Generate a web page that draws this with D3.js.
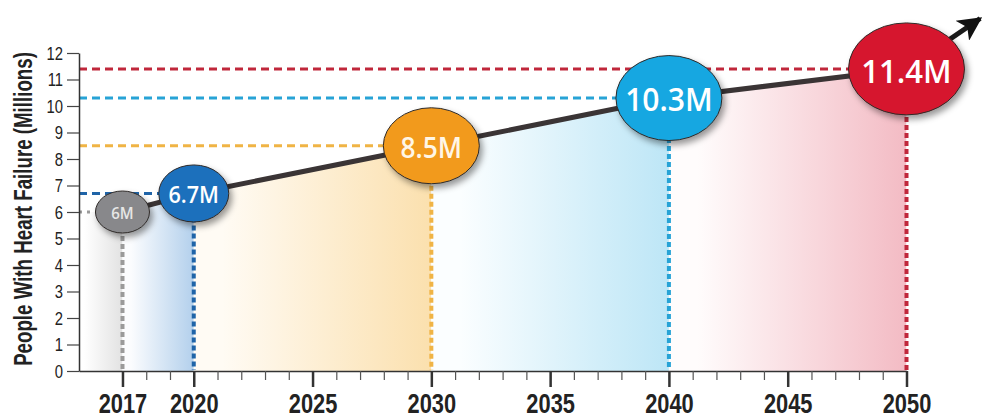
<!DOCTYPE html>
<html>
<head>
<meta charset="utf-8">
<script src="https://cdn.jsdelivr.net/npm/d3@7"></script>
<style>
  html, body { margin: 0; padding: 0; background: #fff; }
  svg { display: block; }
</style>
</head>
<body>
<svg id="chart" width="982" height="418"></svg>
<script>
// ---- data ----
const years = [2017, 2020, 2030, 2040, 2050];
const values = [6, 6.7, 8.5, 10.3, 11.4];
const labels = ["6M", "6.7M", "8.5M", "10.3M", "11.4M"];
const arrowTip = { year: 2053.1, value: 13.3 };
const yTicks = [0, 1, 2, 3, 4, 5, 6, 7, 8, 9, 10, 11, 12];
const xMinorTicks = d3.range(2017, 2051);
const xTickLabels = [2017, 2020, 2025, 2030, 2035, 2040, 2045, 2050];
const yTitle = "People With Heart Failure (Millions)";

// ---- styles ----
const bubbleFill = ["#88888b", "#1f6fbc", "#f29a1e", "#17a7e1", "#d6192f"];
const lineColor = ["#9a9a9a", "#1f64a8", "#f0b445", "#27a3d6", "#c0273b"];
const bandStart = ["#ffffff", "#fbfcfe", "#fffbf4", "#fbfeff", "#fffcfc"];
const bandColor = ["#e2e2e2", "#b3d0ec", "#fbe0ae", "#bde6f6", "#f3bbc4"];
const bubbleRx = [27, 35, 48, 53, 58];
const bubbleRy = [21, 28.5, 38, 42.5, 46];
const labelSize = [16, 23, 28, 32, 33];
const labelColor = ["#e6e6e6", "#ffffff", "#fff6e6", "#ffffff", "#ffffff"];
const narrowFont = "'Liberation Sans', Arial, sans-serif";
const squeeze = 0.78;

const svg = d3.select("#chart");
const x = d3.scaleLinear().domain([2015.17, 2050]).range([79, 906.5]);
const y = d3.scaleLinear().domain([0, 12]).range([371, 53]);

const defs = svg.append("defs");
const shadow = defs.append("filter").attr("id", "shadow")
  .attr("x", "-30%").attr("y", "-30%").attr("width", "170%").attr("height", "170%");
shadow.append("feDropShadow").attr("dx", 3).attr("dy", 4)
  .attr("stdDeviation", 3).attr("flood-color", "#000").attr("flood-opacity", 0.4);

defs.append("marker").attr("id", "arrow")
  .attr("markerUnits", "userSpaceOnUse")
  .attr("viewBox", "0 0 10 10").attr("refX", 9).attr("refY", 5)
  .attr("markerWidth", 26).attr("markerHeight", 24).attr("orient", "auto")
  .append("path").attr("d", "M0,0 L10,5 L0,10 L2.5,5 Z").attr("fill", "#111");

// ---- area under line with colored bands ----
const areaPts = [{ year: x.domain()[0], value: values[0] }]
  .concat(years.map((yr, i) => ({ year: yr, value: values[i] })));
const area = d3.area().x(d => x(d.year)).y0(y(0)).y1(d => y(d.value));
defs.append("clipPath").attr("id", "areaClip")
  .append("path").attr("d", area(areaPts));

const bandEdges = [x.domain()[0]].concat(years);
const bands = svg.append("g").attr("clip-path", "url(#areaClip)");
for (let i = 0; i < bandEdges.length - 1; i++) {
  const g = defs.append("linearGradient").attr("id", "band" + i)
    .attr("x1", "0").attr("x2", "1").attr("y1", "0").attr("y2", "0");
  g.append("stop").attr("offset", "0").attr("stop-color", bandStart[i]);
  g.append("stop").attr("offset", "0.12").attr("stop-color", bandStart[i]);
  g.append("stop").attr("offset", "1").attr("stop-color", bandColor[i]);
  bands.append("rect")
    .attr("x", x(bandEdges[i])).attr("y", y(12))
    .attr("width", x(bandEdges[i + 1]) - x(bandEdges[i]))
    .attr("height", y(0) - y(12))
    .attr("fill", "url(#band" + i + ")");
}

// ---- reference lines ----
const refs = svg.append("g");
years.forEach((yr, i) => {
  refs.append("line")
    .attr("x1", x.range()[0]).attr("x2", x(yr))
    .attr("y1", y(values[i])).attr("y2", y(values[i]))
    .attr("stroke", lineColor[i]).attr("stroke-width", 3)
    .attr("stroke-dasharray", i === 0 ? "3,5" : "8,5");
  refs.append("line")
    .attr("x1", x(yr)).attr("x2", x(yr))
    .attr("y1", y(values[i])).attr("y2", y(0) - 1)
    .attr("stroke", lineColor[i]).attr("stroke-width", 4)
    .attr("stroke-dasharray", "5,3");
});

// ---- axes ----
const yAxis = svg.append("g").attr("transform", `translate(${x.range()[0]},0)`)
  .call(d3.axisLeft(y).tickValues(yTicks).tickSize(12).tickPadding(4).tickSizeOuter(0));
yAxis.select(".domain").attr("stroke", "#333").attr("stroke-width", 1.5);
yAxis.selectAll(".tick line").attr("stroke", "#444").attr("stroke-width", 1.2);
yAxis.selectAll(".tick text")
  .attr("font-family", narrowFont)
  .attr("font-size", 19).attr("fill", "#222")
  .attr("x", -16 / squeeze)
  .attr("transform", `scale(${squeeze},1)`);

const xMinor = svg.append("g").attr("transform", `translate(0,${y(0)})`)
  .call(d3.axisBottom(x).tickValues(xMinorTicks).tickSize(9).tickFormat("").tickSizeOuter(0));
xMinor.select(".domain").attr("stroke", "#333").attr("stroke-width", 1.5);
xMinor.selectAll(".tick line").attr("stroke", "#555").attr("stroke-width", 1.2);

const xMajor = svg.append("g").attr("transform", `translate(0,${y(0)})`)
  .call(d3.axisBottom(x).tickValues(xTickLabels).tickSize(16).tickPadding(6)
    .tickFormat(d3.format("d")).tickSizeOuter(0));
xMajor.select(".domain").remove();
xMajor.selectAll(".tick line").attr("stroke", "#333").attr("stroke-width", 2.5);
xMajor.selectAll(".tick text")
  .attr("font-family", narrowFont)
  .attr("font-weight", "bold").attr("font-size", 28).attr("fill", "#222")
  .attr("transform", `scale(${squeeze},1)`);

// y title
svg.append("text")
  .attr("transform", `translate(23,${(y(0) + y(12)) / 2 - 3}) rotate(-90) scale(0.72,1)`)
  .attr("text-anchor", "middle").attr("dominant-baseline", "central")
  .attr("font-family", narrowFont)
  .attr("font-weight", "bold").attr("font-size", 26).attr("fill", "#222")
  .text(yTitle);

// ---- trend line ----
const linePts = years.map((yr, i) => ({ year: yr, value: values[i] }));
const line = d3.line().x(d => x(d.year)).y(d => y(d.value));
svg.append("path").attr("d", line(linePts))
  .attr("fill", "none").attr("stroke", "#3a3435").attr("stroke-width", 5)
  .attr("stroke-linejoin", "round");
svg.append("path").attr("d", line([linePts[linePts.length - 1], arrowTip]))
  .attr("fill", "none").attr("stroke", "#1a1a1a").attr("stroke-width", 5)
  .attr("marker-end", "url(#arrow)");

// ---- bubbles ----
const bub = svg.append("g").selectAll("g").data(linePts).join("g")
  .attr("transform", d => `translate(${x(d.year)},${y(d.value)})`);
bub.append("ellipse")
  .attr("rx", (d, i) => bubbleRx[i]).attr("ry", (d, i) => bubbleRy[i])
  .attr("fill", (d, i) => bubbleFill[i])
  .attr("stroke", "#2e2a28").attr("stroke-width", 1)
  .attr("filter", "url(#shadow)");
bub.append("text")
  .attr("text-anchor", "middle").attr("dominant-baseline", "central")
  .attr("dy", 1)
  .attr("font-family", "'Open Sans', 'Noto Sans', sans-serif")
  .attr("font-weight", 600)
  .attr("font-size", (d, i) => labelSize[i])
  .attr("fill", (d, i) => labelColor[i])
  .attr("transform", "scale(0.94,1)")
  .text((d, i) => labels[i]);
</script>
</body>
</html>
